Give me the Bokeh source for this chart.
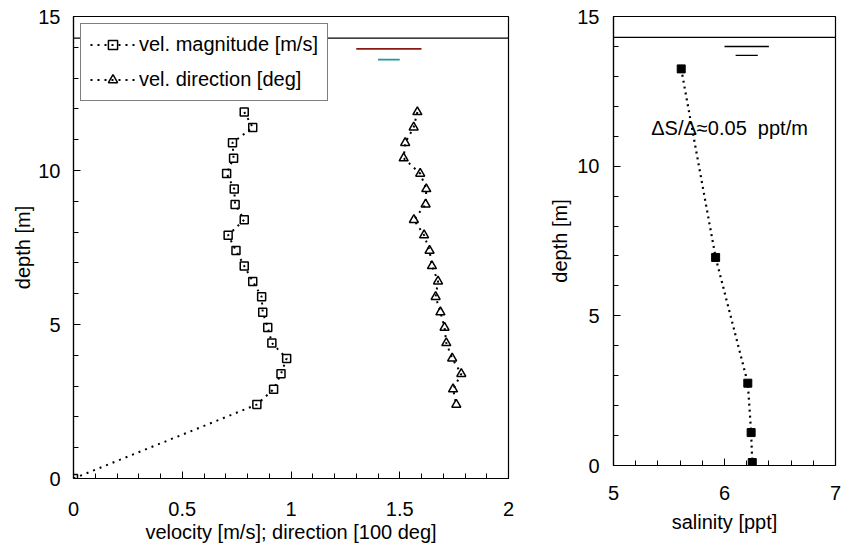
from bokeh.plotting import figure
from bokeh.models import Range1d, FixedTicker, Span, Label
from bokeh.layouts import row
from bokeh.embed import file_html
from bokeh.resources import INLINE

# ---------------- data ----------------
depth = [11.9, 11.4, 10.9, 10.4, 9.9, 9.4, 8.9, 8.4, 7.9, 7.4,
         6.9, 6.4, 5.9, 5.4, 4.9, 4.4, 3.9, 3.4, 2.9, 2.4]
mag_depth = depth + [0.0]
vel_magnitude = [0.785, 0.824, 0.731, 0.736, 0.704, 0.739, 0.743, 0.785, 0.711, 0.747,
                 0.785, 0.824, 0.865, 0.870, 0.893, 0.912, 0.980, 0.954, 0.920, 0.843, 0.0]
vel_direction = [1.581, 1.564, 1.525, 1.518, 1.594, 1.622, 1.619, 1.565, 1.612, 1.637,
                 1.648, 1.676, 1.665, 1.687, 1.706, 1.714, 1.741, 1.783, 1.745, 1.760]

sal_depth = [13.25, 6.95, 2.75, 1.1, 0.1]
salinity = [5.61, 5.92, 6.21, 6.24, 6.25]

surface_level = 14.3
left_marks_x = [[1.3, 1.6], [1.4, 1.5]]
left_marks_y = [[13.95, 13.95], [13.6, 13.6]]
right_marks_x = [[6.0, 6.4], [6.1, 6.3]]
right_marks_y = [[14.0, 14.0], [13.7, 13.7]]

vel_ticks = [0, 0.5, 1, 1.5, 2]
vel_tick_labels = ["0", "0.5", "1", "1.5", "2"]
vel_minor = [0.1, 0.2, 0.3, 0.4, 0.6, 0.7, 0.8, 0.9, 1.1, 1.2, 1.3, 1.4, 1.6, 1.7, 1.8, 1.9]
depth_ticks = [0, 5, 10, 15]
depth_minor = [1, 2, 3, 4, 6, 7, 8, 9, 11, 12, 13, 14]
sal_ticks = [5, 6, 7]
sal_minor = [5.2, 5.4, 5.6, 5.8, 6.2, 6.4, 6.6, 6.8]

annotation = "\u0394S/\u0394\u22480.05\u00a0 ppt/m"

FONT = "Liberation Sans"
FS = "20px"


def style(p, xlab, ylab, x_std, y_std, xl_std, yl_std):
    p.xgrid.visible = False
    p.ygrid.visible = False
    p.outline_line_color = "black"
    p.outline_line_width = 1.2
    p.outline_line_alpha = 1
    for ax in (p.xaxis[0], p.yaxis[0]):
        ax.major_tick_in = 7
        ax.major_tick_out = 0
        ax.minor_tick_in = 5
        ax.minor_tick_out = 0
        ax.axis_line_color = "black"
        ax.axis_line_width = 1.2
        ax.major_tick_line_color = "black"
        ax.minor_tick_line_color = "black"
        ax.major_label_text_font = FONT
        ax.major_label_text_font_size = FS
        ax.major_label_text_color = "black"
        ax.axis_label_text_font = FONT
        ax.axis_label_text_font_size = FS
        ax.axis_label_text_font_style = "normal"
        ax.axis_label_text_color = "black"
    p.xaxis[0].axis_label = xlab
    p.yaxis[0].axis_label = ylab
    p.xaxis[0].major_label_standoff = x_std
    p.yaxis[0].major_label_standoff = y_std
    p.xaxis[0].axis_label_standoff = xl_std
    p.yaxis[0].axis_label_standoff = yl_std


# ---------------- left plot ----------------
p1 = figure(x_range=Range1d(0, 2), y_range=Range1d(0, 15),
            frame_width=435, frame_height=462,
            min_border_left=73, min_border_right=30,
            min_border_top=16, min_border_bottom=50,
            output_backend="svg", toolbar_location=None)
style(p1, "velocity [m/s]; direction [100 deg]", "depth [m]", 23, 13, 2, 1)
p1.xaxis[0].ticker = FixedTicker(ticks=vel_ticks, minor_ticks=vel_minor)
p1.xaxis[0].major_label_overrides = {t: l for t, l in zip(vel_ticks, vel_tick_labels)}
p1.yaxis[0].ticker = FixedTicker(ticks=depth_ticks, minor_ticks=depth_minor)

p1.add_layout(Span(location=surface_level, dimension="width",
                   line_color="black", line_width=1.2))
p1.line(left_marks_x[0], left_marks_y[0], line_color="#8b1a10", line_width=1.6)
p1.line(left_marks_x[1], left_marks_y[1], line_color="#1a9c9a", line_width=1.6)

p1.line(vel_magnitude, mag_depth, line_color="black", line_width=2,
        line_dash="2 5", legend_label="vel. magnitude [m/s]")
p1.scatter(vel_magnitude, mag_depth, marker="square", size=8,
           fill_alpha=0, line_color="black", line_width=1.5,
           legend_label="vel. magnitude [m/s]")
p1.line(vel_direction, depth, line_color="black", line_width=2,
        line_dash="2 5", legend_label="vel. direction [deg]")
p1.scatter(vel_direction, depth, marker="triangle", size=9,
           fill_alpha=0, line_color="black", line_width=1.5,
           legend_label="vel. direction [deg]")

lg = p1.legend[0]
lg.location = "top_left"
lg.margin = 7
lg.padding = 9
lg.spacing = 12
lg.label_height = 23
lg.glyph_height = 23
lg.glyph_width = 45
lg.label_standoff = 4
lg.label_text_font = FONT
lg.label_text_font_size = FS
lg.label_text_color = "black"
lg.border_line_color = "black"
lg.border_line_width = 1
lg.background_fill_color = "white"
lg.background_fill_alpha = 1

# ---------------- right plot ----------------
p2 = figure(x_range=Range1d(5, 7), y_range=Range1d(0, 15),
            frame_width=222, frame_height=449,
            min_border_left=75, min_border_right=8,
            min_border_top=16, min_border_bottom=60,
            output_backend="svg", toolbar_location=None)
style(p2, "salinity [ppt]", "depth [m]", 20, 14, 8, 3)
p2.xaxis[0].ticker = FixedTicker(ticks=sal_ticks, minor_ticks=sal_minor)
p2.yaxis[0].ticker = FixedTicker(ticks=depth_ticks, minor_ticks=depth_minor)

p2.add_layout(Span(location=surface_level, dimension="width",
                   line_color="black", line_width=1.2))
p2.line(right_marks_x[0], right_marks_y[0], line_color="black", line_width=1.4)
p2.line(right_marks_x[1], right_marks_y[1], line_color="black", line_width=1.4)

p2.line(salinity, sal_depth, line_color="black", line_width=2.2, line_dash="2 4")
p2.scatter(salinity, sal_depth, marker="square", size=8,
           fill_color="black", line_color="black")

p2.add_layout(Label(x=5.34, y=11.26, text=annotation, text_baseline="middle",
                    text_align="left", text_font=FONT, text_font_size=FS,
                    text_color="black"))

layout = row(p1, p2)
open("out.html", "w").write(file_html(layout, INLINE))
